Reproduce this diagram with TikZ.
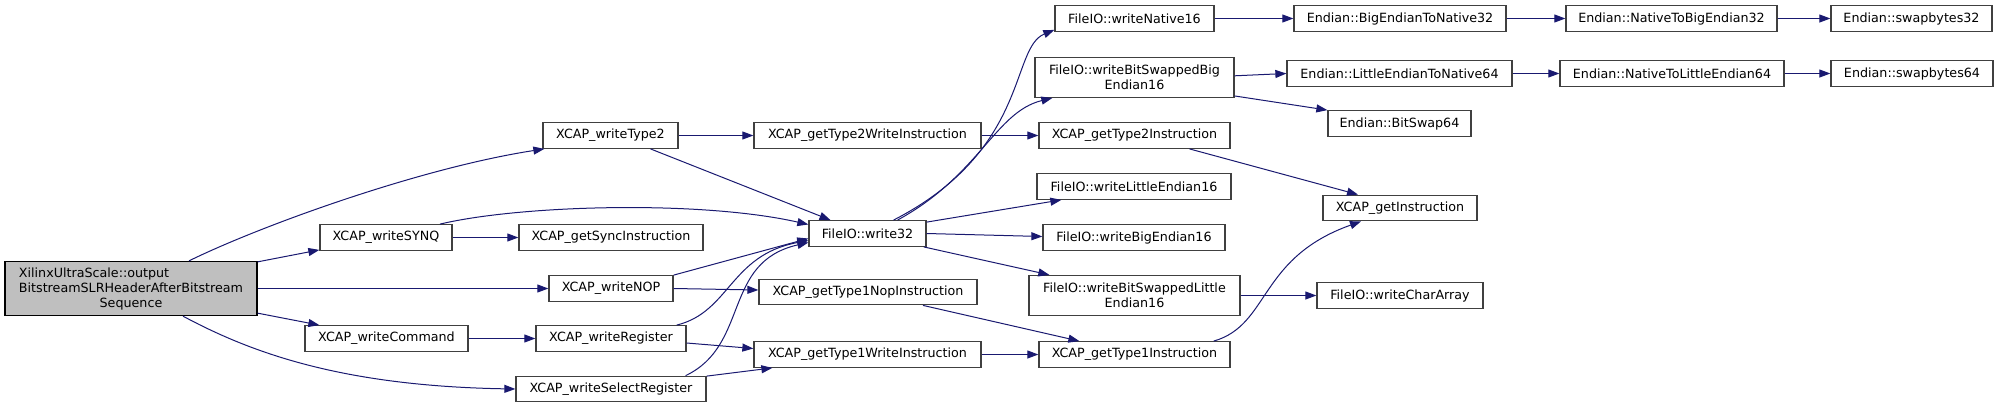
\documentclass[tikz,border=0pt]{standalone}
\usepackage{fontspec}
\setmainfont{DejaVu Sans}
\usetikzlibrary{arrows.meta}
\definecolor{edgec}{HTML}{191970}
\definecolor{boxc}{HTML}{404040}
\definecolor{rootgray}{HTML}{BFBFBF}
\tikzset{
  fn/.style={draw=boxc, line width=1.3pt, fill=white, inner sep=0pt, minimum height=25.5pt,
    font=\fontsize{12.7}{15}\selectfont, align=center},
  rootfn/.style={fn, draw=black, fill=rootgray},
  call/.style={draw=edgec, line width=1pt, -{Triangle[length=11pt,width=8pt]}},
}
\begin{document}
\begin{tikzpicture}[x=1pt,y=-1pt]
\useasboundingbox (0,0) rectangle (1997,408);
% nodes
\node[rootfn, minimum width=252pt, minimum height=54pt] (root) at (131,288.5)
  {\rlap{XilinxUltraScale::output}\phantom{BitstreamSLRHeaderAfterBitstream}\\BitstreamSLRHeaderAfterBitstream\\Sequence};
\node[fn, minimum width=135pt] (wType2) at (610.5,135.5) {XCAP\_writeType2};
\node[fn, minimum width=132pt] (wSYNQ) at (386,237.5) {XCAP\_writeSYNQ};
\node[fn, minimum width=124pt] (wNOP) at (611,288.5) {XCAP\_writeNOP};
\node[fn, minimum width=163pt] (wCmd) at (386.5,338.5) {XCAP\_writeCommand};
\node[fn, minimum width=190pt] (wSel) at (611,389) {XCAP\_writeSelectRegister};
\node[fn, minimum width=184pt] (gSync) at (611,237.5) {XCAP\_getSyncInstruction};
\node[fn, minimum width=150pt] (wReg) at (611,338.5) {XCAP\_writeRegister};
\node[fn, minimum width=227pt] (gT2W) at (867.5,135.5) {XCAP\_getType2WriteInstruction};
\node[fn, minimum width=117pt] (w32) at (867.5,233.5) {FileIO::write32};
\node[fn, minimum width=218pt] (gT1N) at (868,292) {XCAP\_getType1NopInstruction};
\node[fn, minimum width=227pt] (gT1W) at (867.5,354.5) {XCAP\_getType1WriteInstruction};
\node[fn, minimum width=159pt] (wN16) at (1134.5,18.5) {FileIO::writeNative16};
\node[fn, minimum width=199pt, minimum height=40pt] (wBSB) at (1134.5,77.3) {FileIO::writeBitSwappedBig\\Endian16};
\node[fn, minimum width=191pt] (gT2I) at (1134.5,135.5) {XCAP\_getType2Instruction};
\node[fn, minimum width=194pt] (wLE16) at (1134,186.5) {FileIO::writeLittleEndian16};
\node[fn, minimum width=182pt] (wBE16) at (1134,237.5) {FileIO::writeBigEndian16};
\node[fn, minimum width=211pt, minimum height=40pt] (wBSL) at (1134.5,295.5) {FileIO::writeBitSwappedLittle\\Endian16};
\node[fn, minimum width=191pt] (gT1I) at (1134.5,354.5) {XCAP\_getType1Instruction};
\node[fn, minimum width=212pt] (B2N32) at (1400,18.5) {Endian::BigEndianToNative32};
\node[fn, minimum width=225pt] (LE2N64) at (1399.5,73.5) {Endian::LittleEndianToNative64};
\node[fn, minimum width=143pt] (BS64) at (1399.5,123.5) {Endian::BitSwap64};
\node[fn, minimum width=154pt] (gInstr) at (1400,208) {XCAP\_getInstruction};
\node[fn, minimum width=166pt] (wCA) at (1400,295.5) {FileIO::writeCharArray};
\node[fn, minimum width=211pt] (N2B32) at (1671.5,18.5) {Endian::NativeToBigEndian32};
\node[fn, minimum width=224pt] (N2L64) at (1672,73.5) {Endian::NativeToLittleEndian64};
\node[fn, minimum width=161pt] (sw32) at (1911.5,18.5) {Endian::swapbytes32};
\node[fn, minimum width=162pt] (sw64) at (1912,73.5) {Endian::swapbytes64};
% edges
\draw[call] ([xshift=58pt]root.north) .. controls (260,226) and (420,168) .. ([xshift=2pt]wType2.south west);
\draw[call] ([yshift=-1pt]root.north east) -- ([yshift=1pt]wSYNQ.south west);
\draw[call] (root.east) -- (wNOP.west);
\draw[call] ([yshift=3pt]root.south east) -- ([xshift=15pt]wCmd.north west);
\draw[call] ([xshift=52pt]root.south) .. controls (250,352) and (340,386) .. (wSel.west);
\draw[call] (wType2.east) -- (gT2W.west);
\draw[call] ([xshift=40pt]wType2.south) -- ([xshift=-37pt]w32.north);
\draw[call] ([xshift=54pt]wSYNQ.north) .. controls (520,205) and (700,200) .. ([yshift=9pt]w32.west);
\draw[call] (wSYNQ.east) -- (gSync.west);
\draw[call] (wNOP.north east) -- ([yshift=-5pt]w32.west);
\draw[call] (wNOP.east) -- ([yshift=2pt]gT1N.west);
\draw[call] (wCmd.east) -- (wReg.west);
\draw[call] ([xshift=-10pt]wReg.north east) .. controls (730,312) and (730,255) .. ([yshift=-7pt]w32.west);
\draw[call] ([yshift=-4.5pt]wReg.east) -- ([yshift=6pt]gT1W.west);
\draw[call] ([xshift=-21pt]wSel.north east) .. controls (750,345) and (722,262) .. ([yshift=-9pt]w32.west);
\draw[call] ([yshift=-0.5pt]wSel.north east) -- ([xshift=19pt]gT1W.south west);
\draw[call] (gT2W.east) -- (gT2I.west);
\draw[call] ([xshift=26pt]w32.north) .. controls (1030,150) and (1010,48) .. ([yshift=2pt]wN16.south west);
\draw[call] ([xshift=30pt]w32.north) .. controls (980,175) and (995,112) .. ([xshift=18pt]wBSB.south west);
\draw[call] ([yshift=-2pt]w32.north east) -- ([xshift=25pt]wLE16.south west);
\draw[call] (w32.east) -- ([yshift=1pt]wBE16.west);
\draw[call] ([xshift=-3pt]w32.south east) -- ([xshift=21pt]wBSL.north west);
\draw[call] ([xshift=55pt]gT1N.south) -- ([xshift=41pt]gT1I.north west);
\draw[call] (gT1W.east) -- (gT1I.west);
\draw[call] (wN16.east) -- (B2N32.west);
\draw[call] ([yshift=1.5pt]wBSB.east) -- (LE2N64.west);
\draw[call] ([yshift=2pt]wBSB.south east) -- (BS64.north west);
\draw[call] ([xshift=55pt]gT2I.south) -- ([xshift=-42pt]gInstr.north);
\draw[call] (wBSL.east) -- (wCA.west);
\draw[call] ([xshift=-17pt]gT1I.north east) .. controls (1270,325) and (1258,258) .. ([xshift=-39pt]gInstr.south);
\draw[call] (B2N32.east) -- (N2B32.west);
\draw[call] (N2B32.east) -- (sw32.west);
\draw[call] (LE2N64.east) -- (N2L64.west);
\draw[call] (N2L64.east) -- (sw64.west);
\end{tikzpicture}
\end{document}
